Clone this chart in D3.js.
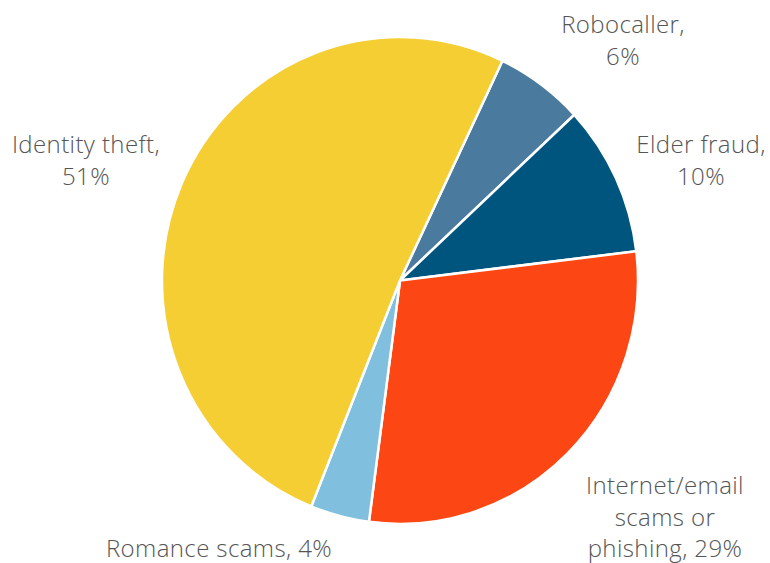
<!DOCTYPE html>
<html>
<head>
<meta charset="utf-8">
<script src="https://cdn.jsdelivr.net/npm/d3@7"></script>
<style>
  html, body { margin: 0; padding: 0; background: #ffffff; }
  svg { display: block; }
  .lbl { font-family: "Open Sans", Lato, sans-serif; font-size: 24px; font-weight: 300; letter-spacing: 0.4px; fill: #555555; }
</style>
</head>
<body>
<svg id="chart" width="770" height="563"></svg>
<script>
// Slice data, drawn clockwise from the first category
const categories = ["Robocaller", "Elder fraud", "Internet/email scams or phishing", "Romance scams", "Identity theft"];
const shares = [6, 10, 29, 4, 51];
const colors = ["#4a7a9e", "#00557f", "#fc4714", "#80c0de", "#f5ce33"];

// Label lines per slice
const labelLines = [
  ["Robocaller,", "6%"],
  ["Elder fraud,", "10%"],
  ["Internet/email", "scams or", "phishing, 29%"],
  ["Romance scams, 4%"],
  ["Identity theft,", "51%"]
];
// Label anchor points (centre x, first baseline y)
const labelX = [623, 701, 665, 219, 86];
const labelY = [33, 153, 494, 557, 153];

const W = 770, H = 563;
const cx = 400, cy = 280.5, r = 238, yStretch = 1.023;
const startDeg = 25.5;

const svg = d3.select("#chart");

const pie = d3.pie()
  .sort(null)
  .value(d => d)
  .startAngle(startDeg * Math.PI / 180)
  .endAngle(startDeg * Math.PI / 180 + 2 * Math.PI);

const arc = d3.arc().innerRadius(0).outerRadius(r);

const g = svg.append("g")
  .attr("transform", `translate(${cx},${cy}) scale(1,${yStretch})`);

g.selectAll("path")
  .data(pie(shares))
  .join("path")
  .attr("d", arc)
  .attr("fill", (d, i) => colors[i])
  .attr("stroke", "#ffffff")
  .attr("stroke-width", 2.5)
  .attr("stroke-linejoin", "round");

const lineGap = 31.5;
const labels = svg.append("g");
labelLines.forEach((lines, i) => {
  const t = labels.append("text")
    .attr("class", "lbl")
    .attr("text-anchor", "middle")
    .attr("x", labelX[i])
    .attr("y", labelY[i]);
  lines.forEach((s, j) => {
    t.append("tspan")
      .attr("x", labelX[i])
      .attr("y", labelY[i] + j * lineGap)
      .text(s);
  });
});
</script>
</body>
</html>
